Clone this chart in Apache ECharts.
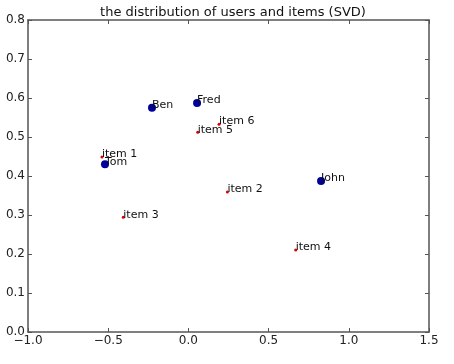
<!DOCTYPE html>
<html><head><meta charset="utf-8">
<script src="https://cdn.jsdelivr.net/npm/echarts@6/dist/echarts.min.js"></script>
<style>html,body{margin:0;padding:0;background:#fff}#c{width:454px;height:364px}</style>
</head><body><div id="c"></div>
<script>
const userNames = ['Ben', 'Fred', 'Tom', 'John'];
const userX = [-0.227, 0.054, -0.52, 0.827];
const userY = [0.575, 0.587, 0.43, 0.387];
const itemNames = ['item 1', 'item 2', 'item 3', 'item 4', 'item 5', 'item 6'];
const itemX = [-0.539, 0.243, -0.406, 0.669, 0.058, 0.191];
const itemY = [0.449, 0.359, 0.294, 0.21, 0.512, 0.533];
const xTicks = [-1.0, -0.5, 0.0, 0.5, 1.0, 1.5];
const yTicks = [0.0, 0.1, 0.2, 0.3, 0.4, 0.5, 0.6, 0.7, 0.8];

const font = 'DejaVu Sans';
const fmt = v => v.toFixed(1).replace('-', '\u2212');
const axisLine = {show: true, onZero: false, lineStyle: {color: '#555', width: 1.5}};
const tick = {show: true, inside: true, length: 4, lineStyle: {color: '#555'}};
const lbl = {
  show: true, position: 'inside', align: 'left', verticalAlign: 'bottom',
  offset: [0, 3], color: '#111', fontFamily: font, fontSize: 11,
  formatter: p => p.data[2]
};
const chart = echarts.init(document.getElementById('c'));
chart.setOption({
  animation: false,
  title: {text: 'the distribution of users and items (SVD)', left: 228, textAlign: 'center', top: 1,
    textStyle: {fontFamily: font, fontSize: 13, fontWeight: 'normal', color: '#111'}},
  grid: {left: 28, right: 25, top: 20, bottom: 32},
  xAxis: [
    {type: 'value', min: xTicks[0], max: xTicks[xTicks.length - 1], interval: 0.5, position: 'bottom',
     axisLine, axisTick: tick, splitLine: {show: false},
     axisLabel: {formatter: fmt, color: '#222', fontFamily: font, fontSize: 12, margin: 3}},
    {type: 'value', min: xTicks[0], max: xTicks[xTicks.length - 1], interval: 0.5, position: 'top',
     axisLine, axisTick: tick, splitLine: {show: false}, axisLabel: {show: false}}
  ],
  yAxis: [
    {type: 'value', min: yTicks[0], max: yTicks[yTicks.length - 1], interval: 0.1, position: 'left',
     axisLine, axisTick: tick, splitLine: {show: false},
     axisLabel: {formatter: fmt, color: '#222', fontFamily: font, fontSize: 12, margin: 3}},
    {type: 'value', min: yTicks[0], max: yTicks[yTicks.length - 1], interval: 0.1, position: 'right',
     axisLine, axisTick: tick, splitLine: {show: false}, axisLabel: {show: false}}
  ],
  series: [
    {type: 'scatter', symbolSize: 8, itemStyle: {color: '#00009a', opacity: 1},
     data: userNames.map((n, i) => [userX[i], userY[i], n]), label: lbl},
    {type: 'scatter', symbolSize: 3, itemStyle: {color: '#dd0000', opacity: 1},
     data: itemNames.map((n, i) => [itemX[i], itemY[i], n]), label: lbl}
  ]
});
</script></body></html>
